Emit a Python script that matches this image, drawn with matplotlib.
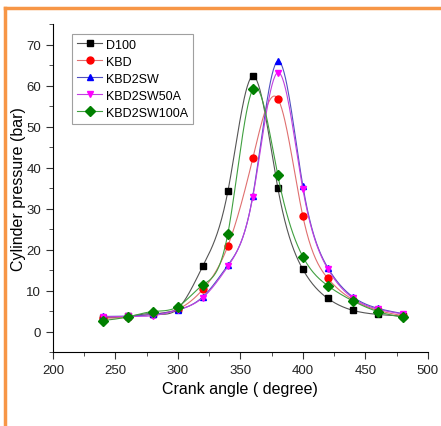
import numpy as np
import matplotlib
matplotlib.use('Agg')
import matplotlib.pyplot as plt
from matplotlib.lines import Line2D
from matplotlib.ticker import MultipleLocator

plt.rcParams['font.family'] = ['Liberation Sans', 'DejaVu Sans']

crank = [240, 260, 280, 300, 320, 340, 360, 380, 400, 420, 440, 460, 480]
d100 = [3.4, 3.7, 4.4, 5.6, 16.0, 34.2, 62.3, 35.0, 15.2, 8.1, 5.2, 4.2, 3.8]
kbd = [3.3, 3.5, 4.3, 5.5, 10.3, 20.9, 42.3, 56.8, 28.2, 13.0, 7.8, 5.2, 3.9]
kbd2sw = [3.7, 3.8, 4.2, 5.3, 8.5, 16.2, 33.2, 66.0, 35.6, 15.6, 8.5, 5.7, 4.4]
kbd2sw50a = [3.6, 3.7, 3.9, 5.3, 8.3, 15.9, 32.9, 63.2, 34.8, 15.3, 8.2, 5.5, 4.3]
kbd2sw100a = [2.7, 3.6, 4.9, 6.1, 11.4, 23.9, 59.1, 38.1, 18.3, 11.2, 7.5, 4.9, 3.5]

series = [
    ('D100', d100, 'black', '#555555', 's'),
    ('KBD', kbd, 'red', '#e07070', 'o'),
    ('KBD2SW', kbd2sw, 'blue', '#5050c0', '^'),
    ('KBD2SW50A', kbd2sw50a, 'magenta', '#c040e0', 'v'),
    ('KBD2SW100A', kbd2sw100a, 'green', '#40a040', 'D'),
]


def spline(x, y, n=400):
    # natural cubic spline, only for drawing the smooth connecting line
    x = np.asarray(x, float)
    y = np.asarray(y, float)
    k = len(x)
    h = np.diff(x)
    A = np.zeros((k, k))
    b = np.zeros(k)
    A[0, 0] = A[-1, -1] = 1
    for i in range(1, k - 1):
        A[i, i - 1] = h[i - 1]
        A[i, i] = 2 * (h[i - 1] + h[i])
        A[i, i + 1] = h[i]
        b[i] = 6 * ((y[i + 1] - y[i]) / h[i] - (y[i] - y[i - 1]) / h[i - 1])
    m = np.linalg.solve(A, b)
    xs = np.linspace(x[0], x[-1], n)
    idx = np.clip(np.searchsorted(x, xs) - 1, 0, k - 2)
    x0, x1 = x[idx], x[idx + 1]
    hh = x1 - x0
    t0, t1 = x1 - xs, xs - x0
    ys = (m[idx] * t0 ** 3 + m[idx + 1] * t1 ** 3) / (6 * hh) \
        + (y[idx] / hh - m[idx] * hh / 6) * t0 \
        + (y[idx + 1] / hh - m[idx + 1] * hh / 6) * t1
    return xs, ys


fig = plt.figure(figsize=(4.41, 4.27), dpi=100)
ax = fig.add_axes([0.120, 0.173, 0.850, 0.768])

handles = []
for name, vals, mc, lc, mk in series:
    xs, ys = spline(crank, vals)
    ax.plot(xs, ys, color=lc, lw=0.8)
    ax.plot(crank, vals, linestyle='none', marker=mk, color=mc, ms=5)
    handles.append(Line2D([], [], color=lc, lw=0.8, marker=mk, mfc=mc, mec=mc, ms=5, label=name))

ax.set_xlim(200, 500)
ax.set_ylim(-5, 75)
ax.xaxis.set_major_locator(MultipleLocator(50))
ax.xaxis.set_minor_locator(MultipleLocator(25))
ax.yaxis.set_major_locator(MultipleLocator(10))
ax.yaxis.set_minor_locator(MultipleLocator(5))
ax.set_yticks(range(0, 80, 10))
ax.spines['top'].set_visible(False)
ax.spines['right'].set_visible(False)
ax.tick_params(which='major', direction='out', length=5, labelsize=9.5, color='#333333', labelcolor='#222222')
ax.tick_params(which='minor', direction='out', length=3, color='#333333')
ax.set_xlabel('Crank angle ( degree)', fontsize=11.5)
ax.set_ylabel('Cylinder pressure (bar)', fontsize=11.5)
ax.yaxis.set_label_coords(-0.073, 0.5)

leg = ax.legend(handles=handles, loc='upper left', bbox_to_anchor=(0.035, 0.99),
                fontsize=9, frameon=True, fancybox=False, handlelength=2.0,
                handletextpad=0.3, labelspacing=0.4, borderpad=0.4)
leg.get_frame().set_edgecolor('#888888')
leg.get_frame().set_linewidth(0.8)

# orange frame around the picture
orange = '#f79646'
fig.add_artist(Line2D([0.012, 1.0], [0.978, 0.978], color=orange, lw=2.5, transform=fig.transFigure))
fig.add_artist(Line2D([0.012, 0.012], [0.978, 0.0], color=orange, lw=2.5, transform=fig.transFigure))

fig.savefig('out.png', dpi=100)
